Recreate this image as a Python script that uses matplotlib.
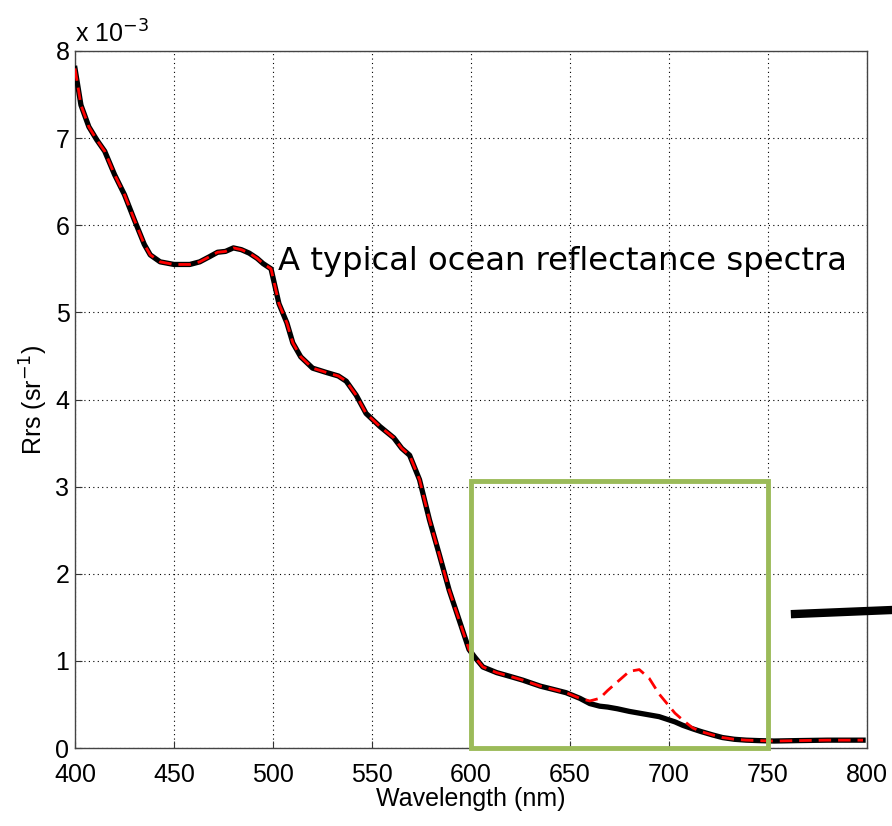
import matplotlib
matplotlib.use("Agg")
from matplotlib import pyplot as plt
from matplotlib.lines import Line2D
from matplotlib.patches import Rectangle

# spectra (Rrs in units of 1e-3 sr^-1)
wavelength = [400, 403, 407, 411, 415, 420, 425, 430, 435, 438, 443, 450, 458, 463, 468,
              472, 476, 480, 484, 488, 492, 495, 499, 503, 507, 510, 514, 520, 527, 533,
              537, 542, 547, 554, 561, 565, 569, 574, 579, 584, 589, 594, 599, 602, 606,
              613, 620, 626, 635, 642, 648, 655, 660, 665, 669, 674, 680, 685, 690, 695,
              699, 703, 707, 712, 716, 722, 727, 733, 739, 745, 753, 765, 780, 798]
rrs_black = [7.80, 7.38, 7.13, 6.98, 6.85, 6.58, 6.35, 6.06, 5.78, 5.66, 5.58, 5.55, 5.55, 5.58, 5.64,
             5.69, 5.70, 5.74, 5.72, 5.68, 5.62, 5.56, 5.50, 5.10, 4.88, 4.65, 4.49, 4.36, 4.31, 4.27,
             4.21, 4.05, 3.84, 3.69, 3.56, 3.44, 3.36, 3.08, 2.62, 2.22, 1.81, 1.47, 1.13, 1.04, 0.93,
             0.865, 0.82, 0.78, 0.71, 0.67, 0.635, 0.57, 0.51, 0.48, 0.47, 0.45, 0.42, 0.40, 0.38, 0.36,
             0.33, 0.30, 0.26, 0.22, 0.19, 0.15, 0.12, 0.10, 0.09, 0.085, 0.08, 0.085, 0.09, 0.09]
rrs_red = [7.80, 7.38, 7.13, 6.98, 6.85, 6.58, 6.35, 6.06, 5.78, 5.66, 5.58, 5.55, 5.55, 5.58, 5.64,
           5.69, 5.70, 5.74, 5.72, 5.68, 5.62, 5.56, 5.50, 5.10, 4.88, 4.65, 4.49, 4.36, 4.31, 4.27,
           4.21, 4.05, 3.84, 3.69, 3.56, 3.44, 3.36, 3.08, 2.62, 2.22, 1.81, 1.47, 1.13, 1.04, 0.93,
           0.865, 0.82, 0.78, 0.71, 0.67, 0.635, 0.57, 0.54, 0.57, 0.66, 0.76, 0.88, 0.90, 0.80, 0.62,
           0.51, 0.40, 0.32, 0.23, 0.19, 0.15, 0.12, 0.10, 0.09, 0.085, 0.08, 0.085, 0.09, 0.09]

x_ticks = [400, 450, 500, 550, 600, 650, 700, 750, 800]
y_ticks = [0, 1, 2, 3, 4, 5, 6, 7, 8]
box_x = [600, 750]
box_top = 3.06

plt.rcParams['font.family'] = ['Liberation Sans', 'DejaVu Sans']

fig = plt.figure(figsize=(8.92, 8.26), dpi=100)
ax = fig.add_axes([75/892, 1-748/826, (867-75)/892, (748-51)/826])

ax.plot(wavelength, rrs_black, color='black', linewidth=3.8, zorder=3)
ax.plot(wavelength, rrs_red, color='red', linewidth=2.0, dashes=(4.5, 2.5), zorder=4)

ax.add_patch(Rectangle((box_x[0], 0), box_x[1]-box_x[0], box_top, fill=False,
                       edgecolor='#9bbb59', linewidth=3.5, zorder=5, clip_on=False))

ax.set_xlim(400, 800)
ax.set_ylim(0, 8)
ax.set_xticks(x_ticks)
ax.set_yticks(y_ticks)
ax.tick_params(direction='in', length=5, labelsize=18, color='#333333')
ax.tick_params(axis='x', pad=11)
ax.tick_params(axis='y', pad=4)
ax.grid(True, linestyle=(0, (1, 3)), color='black', linewidth=0.8)
for s in ax.spines.values():
    s.set_color('#444444')
    s.set_linewidth(1.0)

ax.set_xlabel('Wavelength (nm)', fontsize=18, labelpad=0)
ax.set_ylabel(r'Rrs (sr$^{-1}$)', fontsize=18, labelpad=4)
ax.text(0.0, 1.005, r'x 10$^{-3}$', transform=ax.transAxes, fontsize=18,
        ha='left', va='bottom')

ax.text(502.5, 5.49, 'A typical ocean reflectance spectra', fontsize=23.2,
        family='DejaVu Sans', ha='left', va='baseline', zorder=6)

# piece of an arrow sticking in from the right
fig.add_artist(Line2D([795/892, 1.0], [1-614/826, 1-610/826], color='black',
                      linewidth=6, transform=fig.transFigure))

fig.savefig('out.png', dpi=100)
